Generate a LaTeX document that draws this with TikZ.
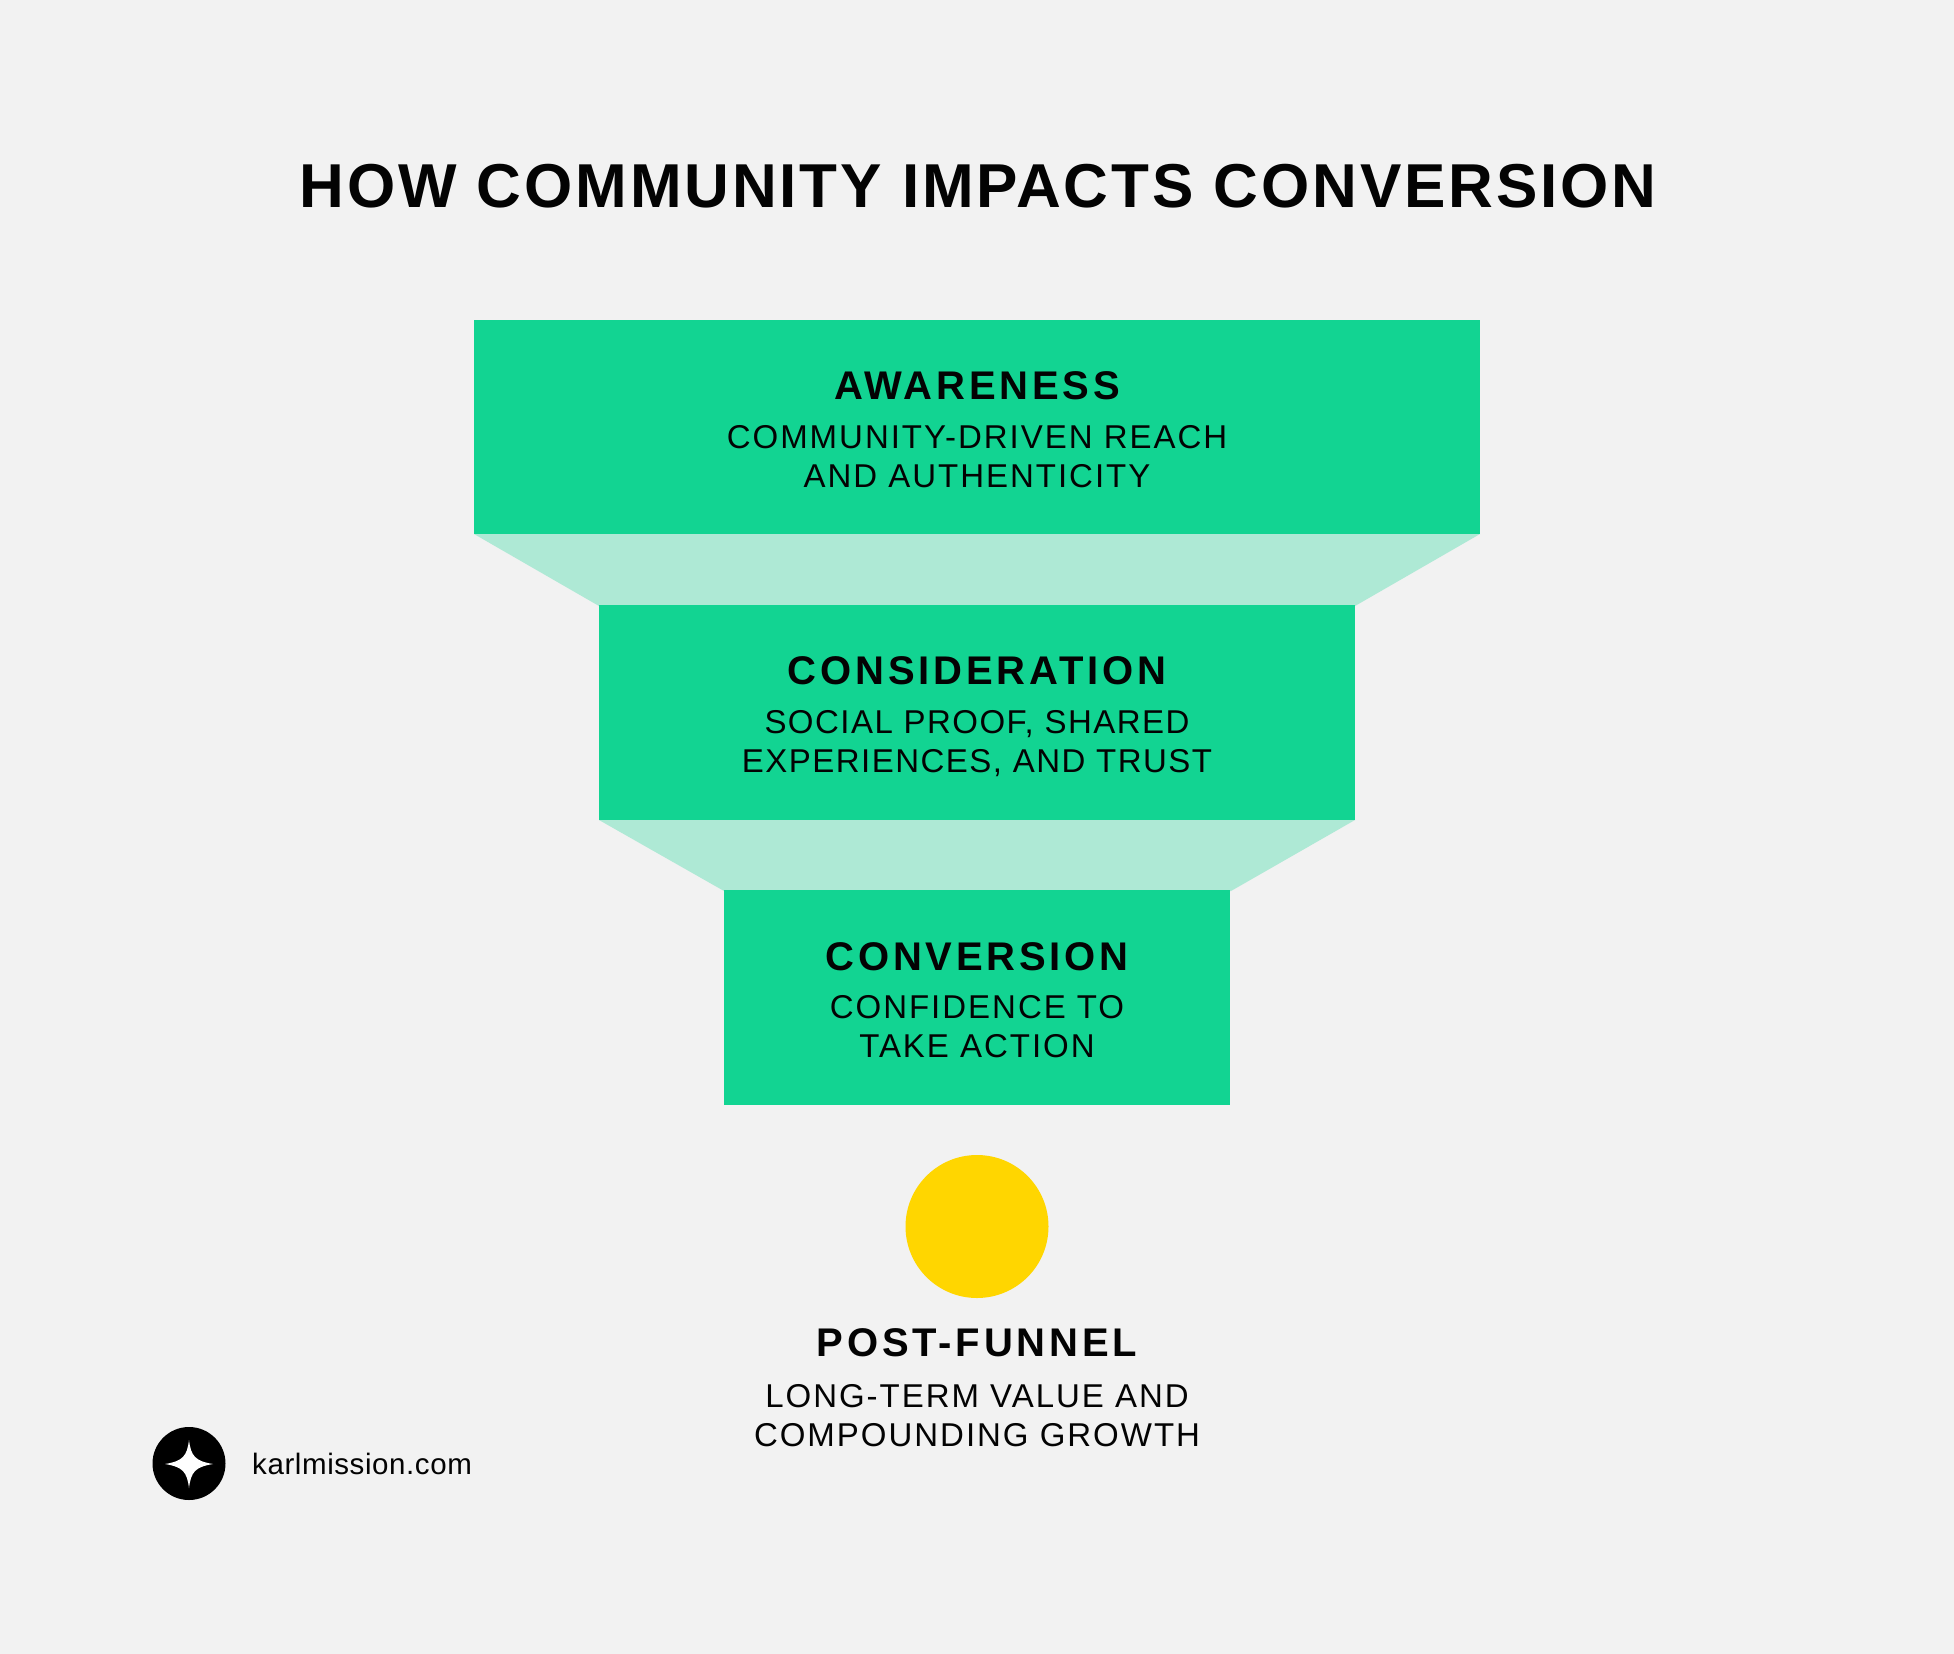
\documentclass[tikz,border=0pt]{standalone}
\usepackage{fontspec}
\setmainfont{Liberation Sans}
\newfontfamily\headf[LetterSpace=9.5]{Liberation Sans}
\newfontfamily\subf[LetterSpace=6]{Liberation Sans}
\newfontfamily\subtightf[LetterSpace=4.5]{Liberation Sans}
\newfontfamily\titlef[LetterSpace=4.6]{Liberation Sans}
\newfontfamily\sitef[LetterSpace=2]{Liberation Sans}
\definecolor{pagebg}{HTML}{F2F2F2}
\definecolor{stage}{HTML}{12D492}
\definecolor{neck}{HTML}{AEE9D5}
\definecolor{sun}{HTML}{FFD600}
\definecolor{ink}{HTML}{030303}
\tikzset{
  x=1pt,y=-1pt,
  stagebox/.style={fill=stage,draw=none,inner sep=0pt,anchor=north west},
  neckshape/.style={fill=neck,draw=none},
  headlabel/.style={text=ink,inner sep=0pt,font=\headf\bfseries\fontsize{40}{40}\selectfont,anchor=base},
  sublabel/.style={text=ink,inner sep=0pt,font=\subf\fontsize{33}{39}\selectfont,align=center,anchor=base},
  sublabeltight/.style={sublabel,font=\subtightf\fontsize{33}{39}\selectfont},
}
\begin{document}
\begin{tikzpicture}
\useasboundingbox (0,0) rectangle (1954,1654);
\fill[pagebg] (0,0) rectangle (1954,1654);
\node[text=ink,inner sep=0pt,anchor=base,font=\titlef\bfseries\fontsize{62}{62}\selectfont] (title) at (978,207) {HOW COMMUNITY IMPACTS CONVERSION};

\fill[neckshape] (474,534) -- (1480,534) -- (1355,606) -- (599,606) -- cycle;
\fill[neckshape] (599,820) -- (1355,820) -- (1231,891) -- (724,891) -- cycle;

\node[stagebox,minimum width=1006pt,minimum height=214pt] (awareness) at (474,320) {};
\node[stagebox,minimum width=756pt,minimum height=215pt] (consideration) at (599,605) {};
\node[stagebox,minimum width=506pt,minimum height=215pt] (conversion) at (724,890) {};

\node[headlabel] (h1) at (977,399) {AWARENESS};
\node[sublabel] (s1) at (977,487) {COMMUNITY-DRIVEN REACH\\AND AUTHENTICITY};
\node[headlabel] (h2) at (977,684) {CONSIDERATION};
\node[sublabeltight] (s2) at (977,772) {SOCIAL PROOF, SHARED\\EXPERIENCES, AND TRUST};
\node[headlabel] (h3) at (977,970) {CONVERSION};
\node[sublabel] (s3) at (977,1057) {CONFIDENCE TO\\TAKE ACTION};

\node[circle,fill=sun,draw=none,minimum size=143pt,inner sep=0pt] (sundot) at (977,1226.5) {};
\node[headlabel] (h4) at (977,1356.5) {POST-FUNNEL};
\node[sublabel] (s4) at (977,1446) {LONG-TERM VALUE AND\\COMPOUNDING GROWTH};

\node[circle,fill=black,draw=none,minimum size=73pt,inner sep=0pt] (logo) at (189,1463.5) {};
\fill[white] (189,1440) .. controls (191,1456) and (195,1461) .. (213,1464)
  .. controls (195,1467) and (191,1472) .. (189,1488)
  .. controls (187,1472) and (183,1467) .. (165,1464)
  .. controls (183,1461) and (187,1456) .. (189,1440) -- cycle;
\node[text=ink,inner sep=0pt,anchor=base west,font=\sitef\fontsize{29.5}{30}\selectfont] (site) at (252,1474) {karlmission.com};
\end{tikzpicture}
\end{document}
